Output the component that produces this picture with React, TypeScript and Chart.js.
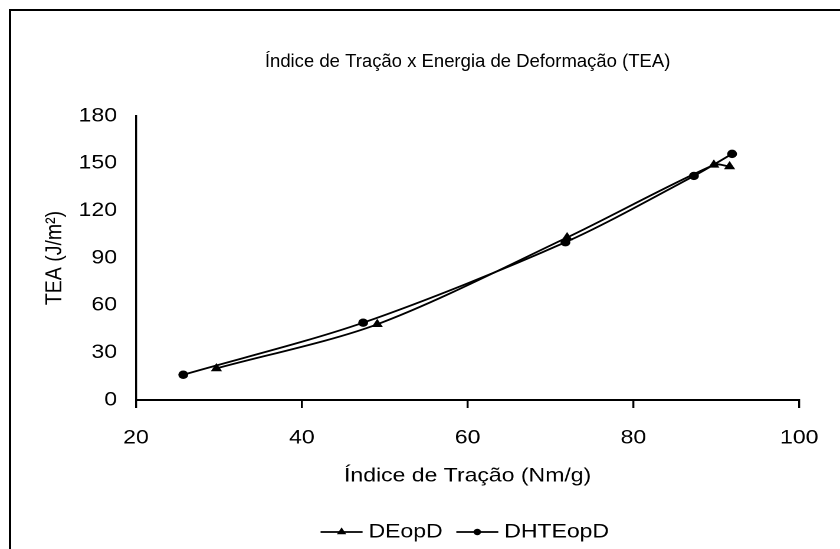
import React, { useEffect, useRef } from "react";
import { Chart, registerables } from "chart.js";

Chart.register(...registerables);

const chartTitle = "Índice de Tração x Energia de Deformação (TEA)";
const xAxisTitle = "Índice de Tração (Nm/g)";
const yAxisTitle = "TEA (J/m²)";
const seriesNames = ["DEopD", "DHTEopD"];
const seriesMarkers = ["triangle", "circle"];

const deopdX = [29.7, 49.1, 72.0, 89.7, 91.6];
const deopdY = [20, 48, 103, 149, 148];
const dhteopdX = [25.7, 47.4, 71.8, 87.3, 91.9];
const dhteopdY = [16, 49, 100, 142, 156];

const xMin = 20;
const xMax = 100;
const xStep = 20;
const yMin = 0;
const yMax = 180;
const yStep = 30;

const FONT = "'Liberation Sans', Arial, Helvetica, sans-serif";
const STRETCH = 840 / 712;
const INNER_W = 712;
const INNER_H = 600;
const LEG_BOX = 26.1;
const LEG_EXT = 4.75;
const TITLE_Y = 62;
const TITLE_SIZE = 18.5;

// Draws the chart title without the horizontal stretch applied to the rest of the canvas
const titlePlugin = {
  id: "unstretchedTitle",
  afterDraw(chart: any) {
    const { ctx, chartArea } = chart;
    ctx.save();
    ctx.font = `${TITLE_SIZE}px ${FONT}`;
    ctx.fillStyle = "#000";
    ctx.textAlign = "center";
    ctx.textBaseline = "middle";
    ctx.translate((chartArea.left + chartArea.right) / 2, TITLE_Y);
    ctx.scale(1 / STRETCH, 1);
    ctx.fillText(chartTitle, 0, 0);
    ctx.restore();
  },
};

const legendIconPlugin = {
  id: "legendIcons",
  afterDraw(chart: any) {
    const legend = chart.legend;
    if (!legend || !legend.legendHitBoxes) return;
    const ctx = chart.ctx as CanvasRenderingContext2D;
    legend.legendHitBoxes.forEach((hb: any, i: number) => {
      const y = hb.top + hb.height / 2;
      const cx = hb.left + LEG_BOX / 2;
      ctx.save();
      ctx.strokeStyle = "#000";
      ctx.fillStyle = "#000";
      ctx.lineWidth = 1.75;
      ctx.beginPath();
      ctx.moveTo(hb.left - LEG_EXT, y);
      ctx.lineTo(hb.left + LEG_BOX + LEG_EXT, y);
      ctx.stroke();
      ctx.beginPath();
      if (seriesMarkers[i] === "triangle") {
        const r = 4.6;
        ctx.moveTo(cx, y - r);
        ctx.lineTo(cx + r * 0.866, y + r * 0.5);
        ctx.lineTo(cx - r * 0.866, y + r * 0.5);
        ctx.closePath();
      } else {
        ctx.arc(cx, y, 3.2, 0, Math.PI * 2);
      }
      ctx.fill();
      ctx.restore();
    });
  },
};

export default function App() {
  const ref = useRef<HTMLCanvasElement>(null);

  useEffect(() => {
    const canvas = ref.current!;
    const font = { family: FONT, size: 19.5, weight: "normal" as const };

    const chart = new Chart(canvas, {
      type: "scatter",
      plugins: [legendIconPlugin, titlePlugin],
      data: {
        datasets: [
          {
            label: seriesNames[0],
            data: deopdX.map((x, i) => ({ x, y: deopdY[i] })),
            showLine: true,
            borderColor: "#000",
            backgroundColor: "#000",
            borderWidth: 1.8,
            pointStyle: seriesMarkers[0],
            pointRadius: 5.5,
            pointBorderWidth: 0,
            tension: 0.3,
          },
          {
            label: seriesNames[1],
            data: dhteopdX.map((x, i) => ({ x, y: dhteopdY[i] })),
            showLine: true,
            borderColor: "#000",
            backgroundColor: "#000",
            borderWidth: 1.8,
            pointStyle: seriesMarkers[1],
            pointRadius: 4.2,
            pointBorderWidth: 0,
            tension: 0.3,
          },
        ],
      },
      options: {
        responsive: false,
        animation: false,
        devicePixelRatio: 2,
        layout: { padding: { left: 0, right: 30.5, top: 116, bottom: 48.25 } },
        plugins: {
          title: { display: false },
          legend: {
            position: "bottom",
            fullSize: false,
            labels: {
              usePointStyle: true,
              pointStyleWidth: LEG_BOX,
              boxHeight: 0,
              color: "#000",
              font,
              padding: 16.35,
            },
          },
          tooltip: { enabled: false },
        },
        scales: {
          x: {
            type: "linear",
            min: xMin,
            max: xMax,
            ticks: { stepSize: xStep, color: "#000", font, padding: 18.3, maxRotation: 0 },
            grid: {
              display: true,
              drawOnChartArea: false,
              drawTicks: true,
              tickLength: 8,
              color: "#000",
              lineWidth: 1.7,
            },
            border: { display: true, color: "#000", width: 2 },
            title: { display: true, text: xAxisTitle, color: "#000", font, padding: { top: 0, bottom: 18.2 } },
            afterFit: (s: any) => {
              s.height = 105.9;
            },
          },
          y: {
            type: "linear",
            min: yMin,
            max: yMax,
            ticks: { stepSize: yStep, color: "#000", font, padding: 16.1 },
            grid: { display: false, drawTicks: false },
            border: { display: true, color: "#000", width: 1.7 },
            title: { display: true, text: yAxisTitle, color: "#000", font, padding: { top: 34.9, bottom: 0 } },
            afterFit: (s: any) => {
              s.width = 136 / STRETCH;
            },
          },
        },
      },
    } as any);

    return () => chart.destroy();
  }, []);

  return (
    <div
      style={{
        position: "fixed",
        left: 0,
        top: 0,
        width: 840,
        height: 549,
        overflow: "hidden",
        background: "#fff",
      }}
    >
      <div
        style={{
          position: "absolute",
          left: 9,
          top: 9,
          width: 900,
          height: 700,
          border: "2px solid #000",
          boxSizing: "border-box",
        }}
      />
      <canvas
        ref={ref}
        width={INNER_W}
        height={INNER_H}
        style={{
          position: "absolute",
          left: 0,
          top: 0,
          width: INNER_W,
          height: INNER_H,
          transform: `scaleX(${STRETCH})`,
          transformOrigin: "0 0",
        }}
      />
    </div>
  );
}
